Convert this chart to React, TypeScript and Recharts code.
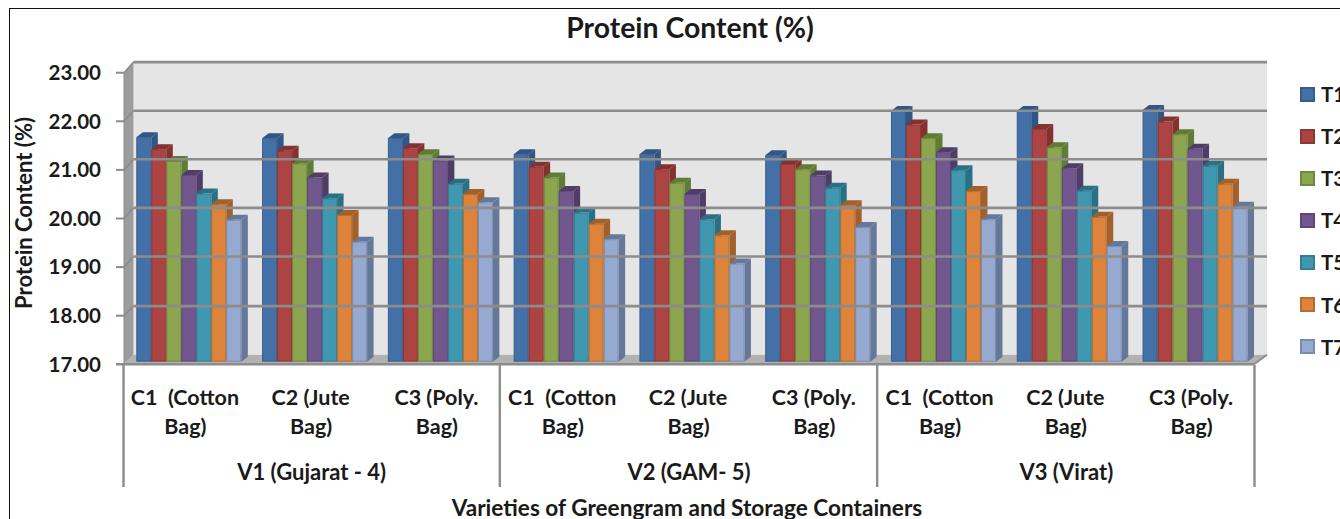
import React from 'react';
import { BarChart, Bar, XAxis, YAxis, ReferenceArea, ReferenceLine, Legend } from 'recharts';

const categories = ['C1  (Cotton|Bag)', 'C2 (Jute|Bag)', 'C3 (Poly.|Bag)', 'C1  (Cotton|Bag)', 'C2 (Jute|Bag)', 'C3 (Poly.|Bag)', 'C1  (Cotton|Bag)', 'C2 (Jute|Bag)', 'C3 (Poly.|Bag)'];
const varieties = ['V1 (Gujarat - 4)', 'V2 (GAM- 5)', 'V3 (Virat)'];
const yTicks = [17, 18, 19, 20, 21, 22, 23];
const T1 = [21.62, 21.60, 21.60, 21.27, 21.27, 21.25, 22.16, 22.16, 22.18];
const T2 = [21.37, 21.34, 21.39, 21.01, 20.96, 21.07, 21.88, 21.79, 21.94];
const T3 = [21.13, 21.08, 21.27, 20.79, 20.68, 20.96, 21.60, 21.41, 21.68];
const T4 = [20.84, 20.79, 21.14, 20.51, 20.45, 20.83, 21.31, 20.98, 21.38];
const T5 = [20.46, 20.36, 20.66, 20.07, 19.93, 20.58, 20.94, 20.52, 21.03];
const T6 = [20.24, 20.02, 20.45, 19.84, 19.60, 20.22, 20.51, 19.98, 20.66];
const T7 = [19.92, 19.47, 20.28, 19.52, 19.02, 19.77, 19.93, 19.38, 20.19];
const seriesNames = ['T1', 'T2', 'T3', 'T4', 'T5', 'T6', 'T7'];
const seriesValues = [T1, T2, T3, T4, T5, T6, T7];
const fills = ['#4470a8', '#ab4442', '#8ba64e', '#72578f', '#3f98b0', '#dd833b', '#96a9d1'];
const darks = ['#2f5685', '#843230', '#617a35', '#4f3c67', '#2a7085', '#a2602a', '#66789a'];
const edges = ['#385d8a', '#8c3836', '#71893f', '#5c4776', '#357d91', '#b66d31', '#7c8cad'];

const data = categories.map((c, i) => {
  const row: any = { cat: c };
  seriesNames.forEach((s, k) => { row[s] = seriesValues[k][i]; });
  return row;
});

const FONT = 'Lato, "Open Sans", sans-serif';
const INK = '#1a1a1a';
const DX = 6.5, DY = 5;
const GRID = '#8c8c8c';

const makeBar = (k: number) => (p: any) => {
  const { x, y, width: w, height: h } = p;
  return (
    <g>
      <polygon points={`${x},${y} ${x + DX},${y - DY} ${x + w + DX},${y - DY} ${x + w},${y}`} fill={darks[k]} />
      <polygon points={`${x + w},${y} ${x + w + DX},${y - DY} ${x + w + DX},${y + h - DY} ${x + w},${y + h}`} fill={darks[k]} />
      <rect x={x + 0.5} y={y + 0.5} width={w - 1} height={h - 1} fill={fills[k]} stroke={edges[k]} strokeWidth={1} />
    </g>
  );
};

const Walls = (p: any) => {
  const { x, y, width, height } = p;
  const fl = x - 1, fr = x + width - 3, bl = x + 8.5, br = x + width + 10;
  const top = y - 8, bot = y + height - 7;
  const ftop = y + 2.6, fbot = y + height + 2.6;
  return (
    <g>
      <rect x={bl} y={top} width={br - bl} height={bot - top} fill="#e5e5e5" />
      <polygon points={`${fl},${ftop} ${bl},${top} ${bl},${bot} ${fl},${fbot}`} fill="#9c9c9c" />
      <polygon points={`${fl},${fbot} ${bl},${bot} ${br},${bot} ${fr},${fbot}`} fill="#b2b2b2" />
      <line x1={fl - 8} x2={fr} y1={fbot} y2={fbot} stroke={GRID} strokeWidth={2.5} />
      <line x1={fr} x2={br} y1={fbot} y2={bot} stroke={GRID} strokeWidth={2} />
      <line x1={fl} x2={fl} y1={fbot} y2={ftop} stroke={GRID} strokeWidth={1} />
    </g>
  );
};

const GridLine = (p: any) => {
  const { x1, x2, y1 } = p;
  const fl = x1 - 1, bl = x1 + 8.5, br = x2 + 10;
  const by = y1 - 8 + (y1 > 300 ? 1 : 0);
  const fy = y1 + 2.6;
  return (
    <g>
      <line x1={fl - 8} x2={fl} y1={fy} y2={fy} stroke={GRID} strokeWidth={2} />
      <line x1={fl} x2={bl} y1={fy} y2={by} stroke="#8a8a8a" strokeWidth={1.5} />
      <line x1={bl} x2={br} y1={by} y2={by} stroke={GRID} strokeWidth={2.6} />
    </g>
  );
};

const YTick = (p: any) => (
  <text x={101} y={p.y + 2.6} dy="0.36em" textAnchor="end" fontFamily={FONT} fontWeight={700} fontSize={20.5} fill={INK}>
    {Number(p.payload.value).toFixed(2)}
  </text>
);

const XTick = (p: any) => {
  const { x, index, payload, width, visibleTicksCount } = p;
  const step = width / visibleTicksCount;
  const [a, b] = String(payload.value).split('|');
  const left = x - step / 2 - (index === 0 ? 1.5 : 2.5);
  return (
    <g fontFamily={FONT} fontWeight={700} fill={INK} textAnchor="middle">
      <text x={x - 3} y={397} dy="0.36em" fontSize={21.5} style={{ whiteSpace: 'pre' }}>{a}</text>
      <text x={x - 2.5} y={426} dy="0.36em" fontSize={21.5}>{b}</text>
      {index % 3 === 1 && (
        <text x={x - 2} y={472} dy="0.36em" fontSize={22}>{varieties[(index - 1) / 3]}</text>
      )}
      {index % 3 === 0 && <line x1={left} x2={left} y1={365} y2={487} stroke={GRID} strokeWidth={2.4} />}
      {index === visibleTicksCount - 1 && <line x1={left + step} x2={left + step} y1={365} y2={487} stroke={GRID} strokeWidth={2.4} />}
    </g>
  );
};

const LegendBox = (p: any) => (
  <div style={{ fontFamily: FONT, fontWeight: 700, fontSize: 20.5, color: INK }}>
    {(p.payload || []).map((e: any, k: number) => (
      <div key={e.value} style={{ display: 'flex', alignItems: 'center', height: 42.1 }}>
        <span style={{ display: 'inline-block', boxSizing: 'border-box', width: 15, height: 15, background: e.color, border: `2px solid ${edges[k]}`, marginRight: 6 }} />
        <span>{e.value}</span>
      </div>
    ))}
  </div>
);

export default function App() {
  return (
    <div style={{ position: 'absolute', left: 0, top: 0, width: 1340, height: 519, overflow: 'hidden', background: '#fff' }}>
      <div style={{ position: 'absolute', left: 9, top: 8, width: 1340, height: 520, borderLeft: '1.5px solid #111', borderTop: '1.5px solid #111' }} />
      <BarChart
        width={1340}
        height={519}
        data={data}
        margin={{ top: 70.1, right: 83, bottom: 0, left: 0 }}
        barCategoryGap="9%"
        barGap={0}
        style={{ position: 'absolute', left: 0, top: 0 }}
      >
        <XAxis
          dataKey="cat"
          height={157.3}
          axisLine={false}
          tickLine={false}
          interval={0}
          tick={XTick}
          label={(l: any) => (
            <text x={687} y={508} dy="0.36em" textAnchor="middle" fontFamily={FONT} fontWeight={700} fontSize={22.6} fill={INK}>
              Varieties of Greengram and Storage Containers
            </text>
          )}
        />
        <YAxis
          width={125}
          domain={[17, 23]}
          ticks={yTicks}
          axisLine={false}
          tickLine={false}
          interval={0}
          tick={YTick}
          label={(l: any) => (
            <text transform="translate(24 213) rotate(-90)" dy="0.36em" textAnchor="middle" fontFamily={FONT} fontWeight={700} fontSize={22} fill={INK}>
              Protein Content (%)
            </text>
          )}
        />
        <ReferenceArea y1={17} y2={23} shape={Walls} ifOverflow="visible" />
        {yTicks.slice(1).map((v) => (
          <ReferenceLine key={v} y={v} shape={GridLine} ifOverflow="visible" />
        ))}
        {seriesNames.map((s, k) => (
          <Bar key={s} dataKey={s} fill={fills[k]} isAnimationActive={false} shape={makeBar(k)} />
        ))}
        <Legend
          layout="vertical"
          align="center"
          verticalAlign="middle"
          content={LegendBox}
          wrapperStyle={{ position: 'absolute', left: 1300, top: 73, width: 60 }}
        />
        <text x={690} y={28} dy="0.36em" textAnchor="middle" fontFamily={FONT} fontWeight={700} fontSize={28.4} fill={INK}>
          Protein Content (%)
        </text>
      </BarChart>
    </div>
  );
}
